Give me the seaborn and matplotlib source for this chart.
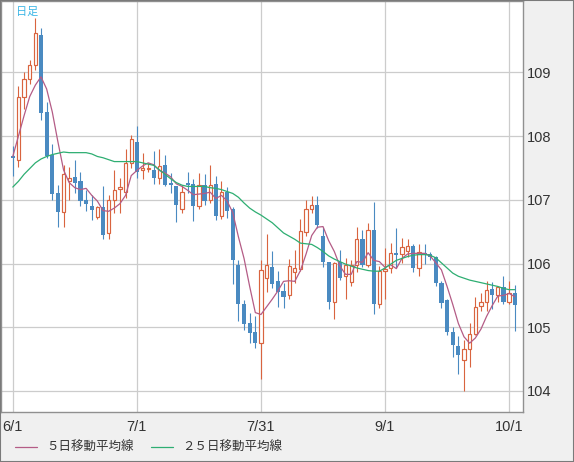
import numpy as np
import pandas as pd
import seaborn as sns
import matplotlib.pyplot as plt
from matplotlib.patches import Rectangle

# 日足データ (6/1 - 10/2)
opens = [107.68, 107.62, 108.62, 108.90, 109.12, 109.58, 108.38, 107.70, 107.10, 106.81,
         107.29, 107.36, 107.30, 106.99, 106.91, 106.73, 106.89, 106.48, 107.00, 107.17,
         107.13, 107.57, 107.91, 107.46, 107.49, 107.46, 107.34, 107.54, 107.27, 107.21,
         106.85, 107.27, 107.25, 106.91, 107.24, 107.00, 107.25, 106.75, 107.13, 106.86,
         105.98, 105.37, 105.06, 104.92, 104.76, 105.77, 105.94, 105.72, 105.57, 105.50,
         105.87, 105.92, 106.49, 106.86, 106.92, 106.43, 106.03, 105.39, 106.03, 105.80,
         105.71, 105.98, 106.39, 105.98, 106.53, 105.37, 105.88, 105.93, 106.17, 106.15,
         106.19, 106.28, 105.93, 106.17, 106.15, 106.11, 105.69, 105.42, 104.93, 104.71,
         104.48, 104.66, 104.90, 105.33, 105.39, 105.60, 105.51, 105.63, 105.39, 105.53]
highs = [107.85, 108.78, 109.00, 109.20, 109.86, 109.69, 108.54, 107.88, 107.24, 107.55,
         107.51, 107.63, 107.43, 107.15, 107.07, 106.91, 107.22, 107.08, 107.46, 107.34,
         107.80, 108.01, 108.16, 107.73, 107.58, 107.77, 107.80, 107.71, 107.42, 107.21,
         107.24, 107.43, 107.33, 107.42, 107.40, 107.55, 107.38, 107.29, 107.20, 106.89,
         106.06, 105.43, 105.23, 105.17, 106.06, 106.47, 106.20, 105.88, 105.70, 106.07,
         106.21, 106.70, 107.00, 107.06, 107.06, 106.58, 106.03, 106.03, 106.22, 106.09,
         106.06, 106.57, 106.53, 106.63, 106.96, 105.96, 106.25, 106.32, 106.56, 106.40,
         106.39, 106.30, 106.30, 106.30, 106.18, 106.12, 105.72, 105.44, 105.01, 104.87,
         104.80, 105.06, 105.48, 105.54, 105.72, 105.71, 105.65, 105.81, 105.73, 105.67]
lows = [107.38, 107.51, 108.42, 108.81, 109.04, 108.25, 107.66, 106.99, 106.57, 106.58,
        106.99, 107.11, 106.91, 106.83, 106.69, 106.70, 106.39, 106.39, 106.80, 106.80,
        107.03, 107.50, 107.35, 107.33, 107.43, 107.25, 107.25, 107.21, 107.11, 106.65,
        106.80, 107.11, 106.66, 106.85, 106.92, 106.95, 106.69, 106.70, 106.72, 105.68,
        105.10, 104.96, 104.76, 104.67, 104.19, 105.56, 105.61, 105.32, 105.30, 105.45,
        105.70, 105.89, 106.43, 106.80, 106.56, 105.95, 105.29, 105.13, 105.74, 105.44,
        105.65, 105.87, 105.95, 105.95, 105.21, 105.30, 105.45, 105.85, 105.93, 106.01,
        106.11, 105.86, 105.80, 106.00, 106.05, 105.65, 105.30, 104.88, 104.54, 104.27,
        104.00, 104.38, 104.88, 105.25, 105.25, 105.28, 105.40, 105.37, 105.36, 104.94]
closes = [107.65, 108.62, 108.90, 109.12, 109.62, 108.37, 107.68, 107.09, 106.81, 107.41,
          107.35, 107.27, 106.98, 106.93, 106.84, 106.89, 106.45, 107.00, 107.15, 107.20,
          107.57, 107.96, 107.44, 107.50, 107.49, 107.34, 107.53, 107.23, 107.23, 106.92,
          107.13, 107.23, 106.91, 107.24, 106.98, 107.24, 106.75, 107.12, 106.82, 106.05,
          105.37, 105.05, 104.91, 104.76, 105.90, 105.97, 105.68, 105.56, 105.48, 105.96,
          105.93, 106.51, 106.86, 106.92, 106.61, 106.02, 105.39, 106.01, 105.77, 105.98,
          105.98, 106.39, 105.98, 106.53, 105.37, 105.89, 105.92, 106.17, 106.14, 106.26,
          106.28, 105.93, 106.18, 106.13, 106.10, 105.69, 105.38, 104.92, 104.72, 104.57,
          104.66, 104.90, 105.32, 105.39, 105.59, 105.50, 105.63, 105.39, 105.53, 105.35]

# 移動平均線 (チャートから読み取り)
ma5 = [107.68, 108.00, 108.32, 108.62, 108.80, 108.93, 108.74, 108.38, 107.91, 107.47,
       107.27, 107.19, 107.16, 107.18, 107.07, 106.98, 106.83, 106.82, 106.87, 106.94,
       107.07, 107.38, 107.46, 107.53, 107.58, 107.55, 107.46, 107.42, 107.36, 107.25,
       107.21, 107.15, 107.08, 107.09, 107.10, 107.12, 107.02, 107.07, 106.98, 106.80,
       106.42, 106.08, 105.64, 105.23, 105.20, 105.32, 105.44, 105.57, 105.72, 105.73,
       105.72, 105.89, 106.15, 106.44, 106.57, 106.58, 106.36, 106.19, 105.96, 105.83,
       105.83, 106.03, 106.02, 106.17, 106.05, 106.03, 105.94, 105.98, 105.92, 106.08,
       106.15, 106.16, 106.16, 106.16, 106.12, 106.01, 105.90, 105.64, 105.36, 105.06,
       104.85, 104.75, 104.83, 104.97, 105.17, 105.34, 105.49, 105.50, 105.53, 105.48]
ma25 = [107.20, 107.29, 107.40, 107.49, 107.58, 107.64, 107.68, 107.71, 107.73, 107.75,
        107.74, 107.74, 107.74, 107.74, 107.72, 107.68, 107.66, 107.63, 107.60, 107.60,
        107.60, 107.60, 107.60, 107.58, 107.56, 107.54, 107.47, 107.40, 107.33, 107.27,
        107.23, 107.21, 107.21, 107.21, 107.21, 107.19, 107.18, 107.16, 107.13, 107.10,
        107.04, 106.95, 106.87, 106.81, 106.76, 106.70, 106.64, 106.56, 106.48, 106.43,
        106.38, 106.32, 106.31, 106.30, 106.25, 106.19, 106.12, 106.07, 106.03, 105.99,
        105.96, 105.93, 105.91, 105.89, 105.88, 105.88, 105.93, 105.99, 106.05, 106.08,
        106.11, 106.13, 106.14, 106.14, 106.13, 106.09, 106.01, 105.93, 105.85, 105.80,
        105.77, 105.74, 105.72, 105.70, 105.68, 105.66, 105.64, 105.61, 105.59, 105.59]

tick_pos = [0, 22, 44, 66, 88]
tick_labels = ['6/1', '7/1', '7/31', '9/1', '10/1']
y_ticks = [104, 105, 106, 107, 108, 109]

RED = '#d9643f'
BLUE = '#4a8ac1'
PURPLE = '#b45c86'
GREEN = '#2eae72'

df = pd.DataFrame({'open': opens, 'high': highs, 'low': lows, 'close': closes,
                   'ma5': ma5, 'ma25': ma25})
df['x'] = np.arange(len(df))
up = df['close'] >= df['open']

sns.set_style('white')
plt.rcParams['font.family'] = ['Liberation Sans', 'Noto Sans CJK JP', 'DejaVu Sans']

fig = plt.figure(figsize=(5.74, 4.62), dpi=100, facecolor='#f0f0f0')
ax = fig.add_axes([1 / 574, 50 / 462, 522 / 574, 411 / 462])
ax.set_facecolor('white')

# ヒゲ
ax.vlines(df['x'], df['low'], df['high'], colors=np.where(up, RED, BLUE),
          linewidth=0.8, zorder=2)
# 陰線
dn = df[~up]
ax.bar(dn['x'], dn['open'] - dn['close'], bottom=dn['close'], width=0.74,
       color=BLUE, linewidth=0, zorder=3)
# 陽線 (中抜き)
upd = df[up]
ax.bar(upd['x'], np.maximum(upd['close'] - upd['open'], 0.004), bottom=upd['open'],
       width=0.58, facecolor='white', edgecolor=RED, linewidth=0.85, zorder=3)

sns.lineplot(data=df, x='x', y='ma5', color=PURPLE, linewidth=0.9, ax=ax,
             label='５日移動平均線', zorder=4)
sns.lineplot(data=df, x='x', y='ma25', color=GREEN, linewidth=0.9, ax=ax,
             label='２５日移動平均線', zorder=4)

ax.set_xlim(-2.09, 90.46)
ax.set_ylim(103.67, 110.12)
ax.set_xticks(tick_pos)
ax.set_xticklabels(tick_labels)
ax.set_yticks(y_ticks)
ax.yaxis.tick_right()
ax.tick_params(axis='both', length=0, labelsize=10.5, colors='#333333')
ax.tick_params(axis='y', pad=3)
ax.tick_params(axis='x', pad=6)
ax.set_xlabel('')
ax.set_ylabel('')
ax.grid(True, color='#cccccc', linewidth=0.9, zorder=0)
ax.set_axisbelow(True)
for s in ax.spines.values():
    s.set_color('#909090')
    s.set_linewidth(1)

ax.text(0.029, 0.985, '日足', transform=ax.transAxes, ha='left', va='top',
        fontsize=8, color='#3cb6e6', family=['Noto Sans CJK JP', 'DejaVu Sans'])

leg = ax.legend(loc='center left', bbox_to_anchor=(15 / 574, 1 - 447.5 / 462),
                bbox_transform=fig.transFigure, ncol=2, frameon=False,
                borderpad=0, borderaxespad=0, handlelength=1.75, handletextpad=0.75,
                columnspacing=1.4, prop={'family': ['Noto Sans CJK JP', 'DejaVu Sans'], 'size': 9})
for t in leg.get_texts():
    t.set_color('#333333')

fig.patches.append(Rectangle((0, 0), 1, 1, transform=fig.transFigure, fill=False,
                             edgecolor='#7a7a7a', linewidth=1.5))

fig.savefig('out.png', dpi=100, facecolor=fig.get_facecolor())
